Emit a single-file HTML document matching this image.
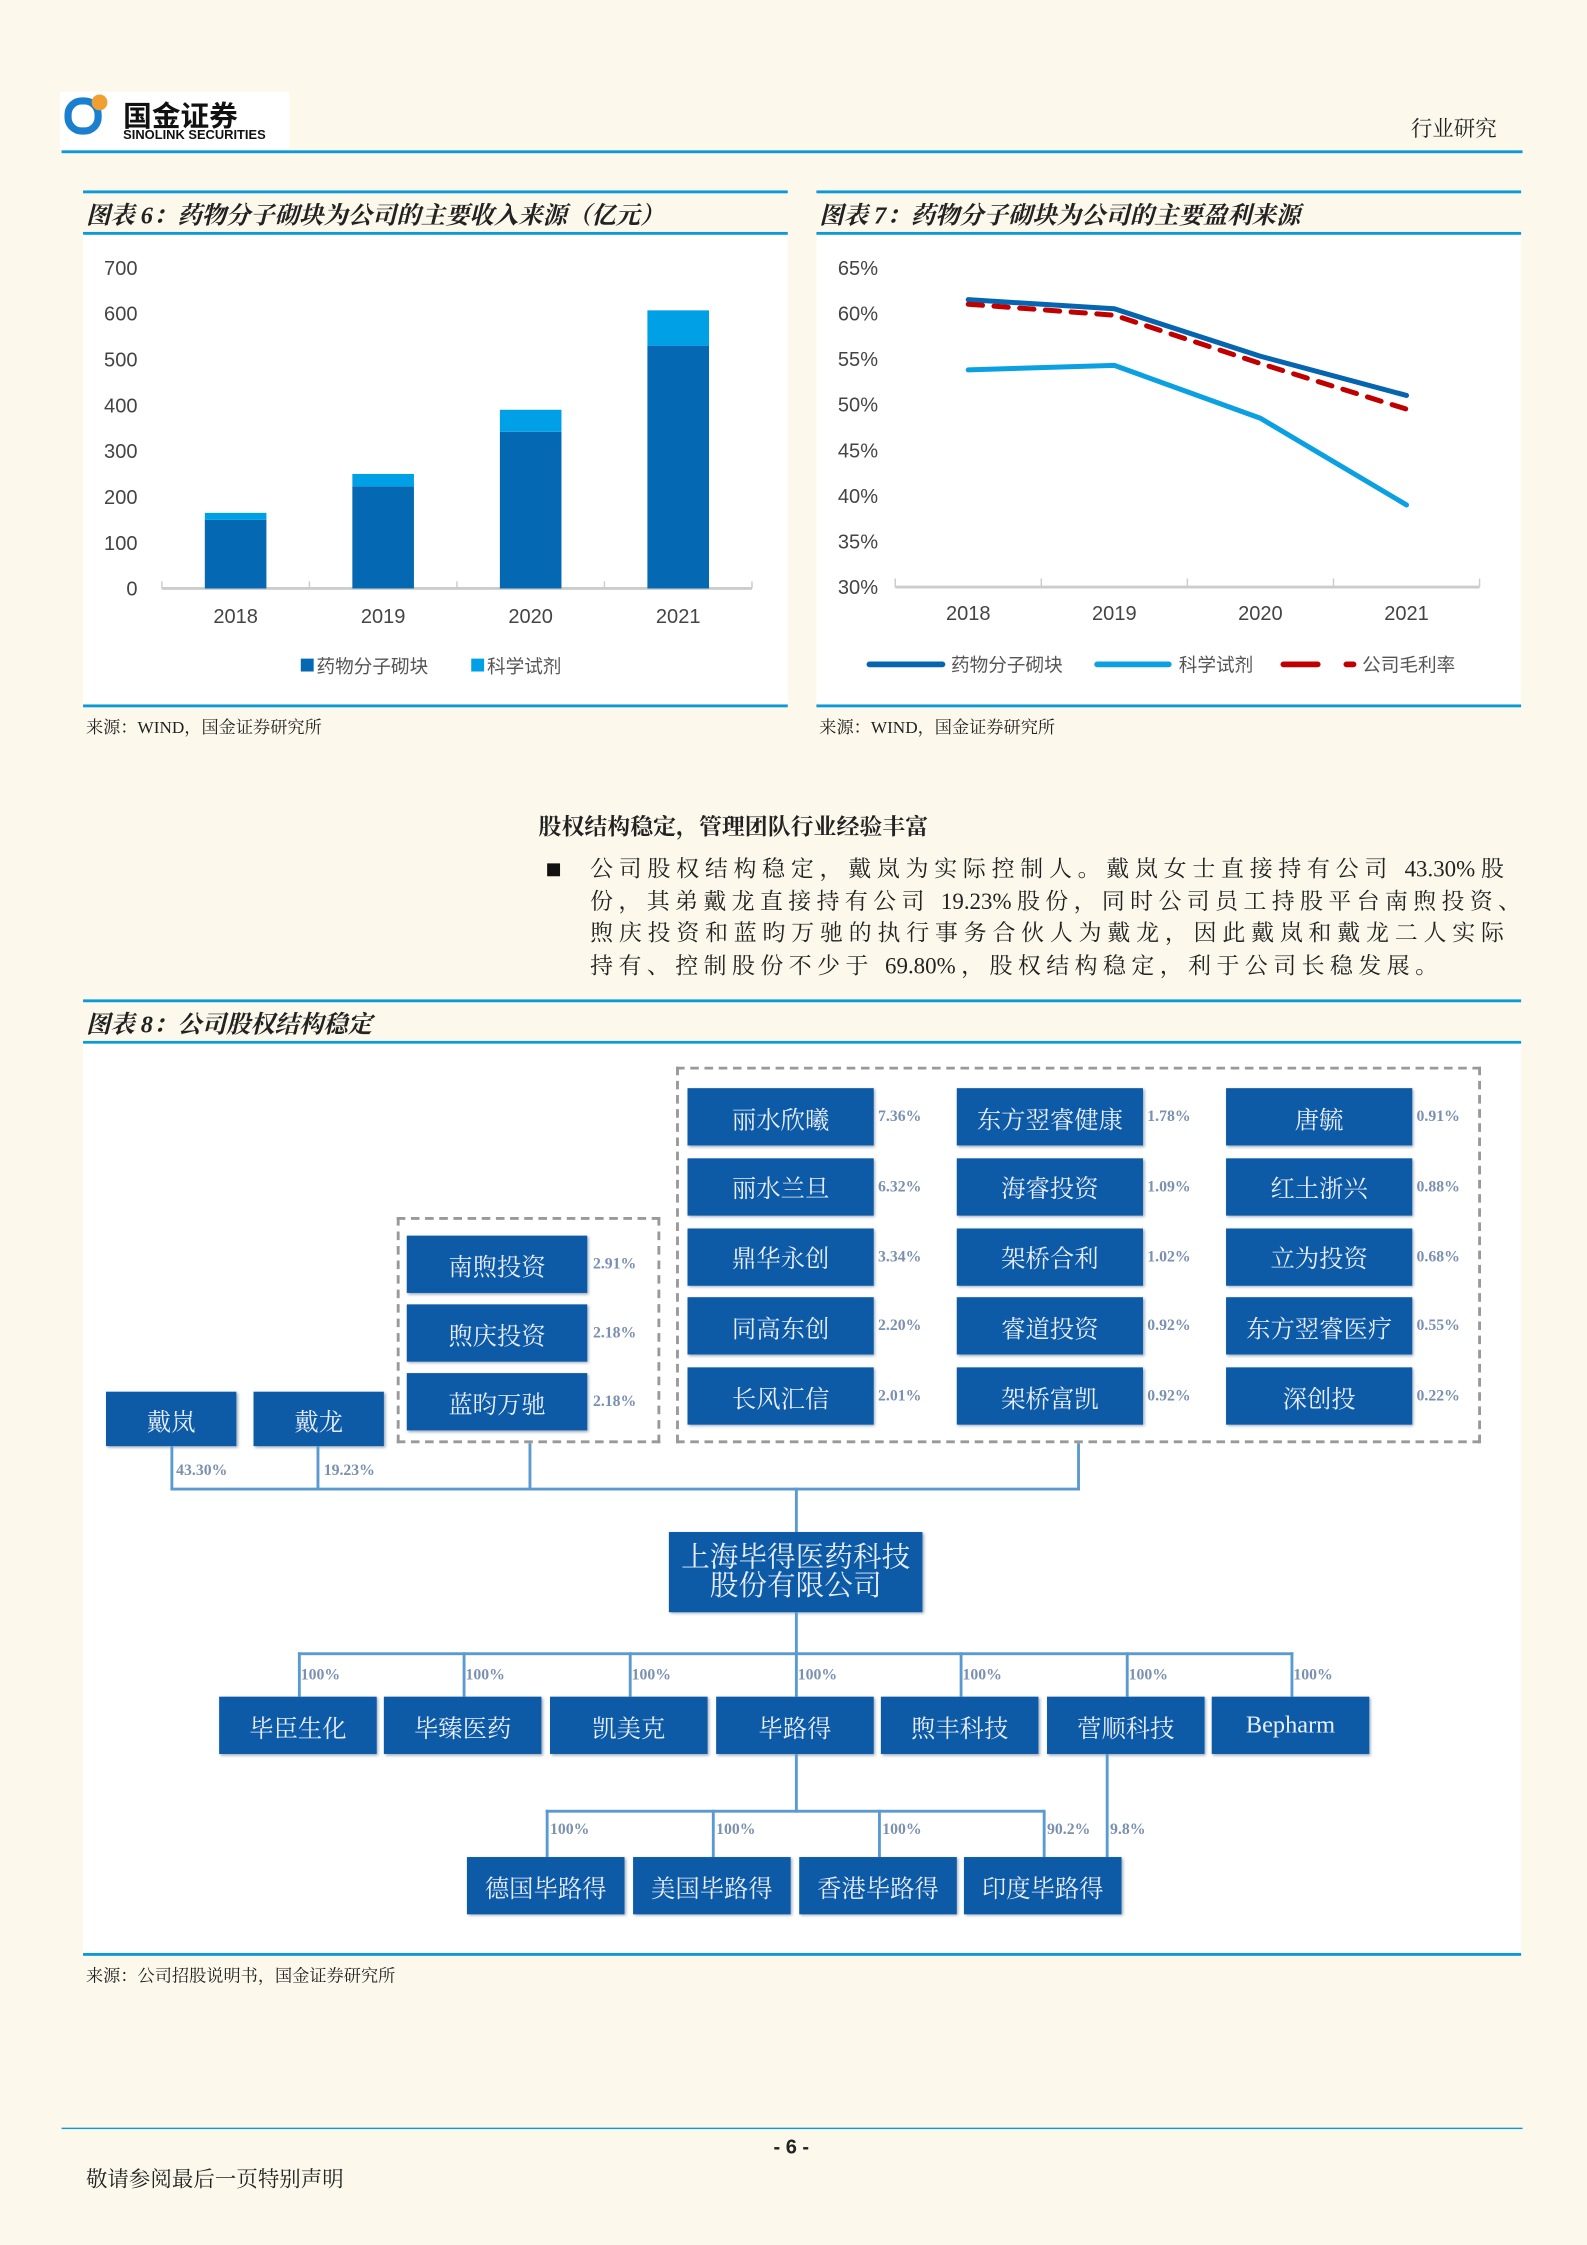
<!DOCTYPE html>
<html><head><meta charset="utf-8">
<style>
html,body{margin:0;padding:0;}
body{width:1587px;height:2245px;overflow:hidden;background:#fdf8ec;}
#wrap{position:absolute;left:0;top:0;width:1108px;height:1568px;transform:scale(1.43231,1.4318);transform-origin:0 0;font-family:"Liberation Sans","Noto Sans CJK SC",sans-serif;color:#222;}
.abs{position:absolute;}
.cap{font-family:"Liberation Serif","Noto Serif CJK SC",serif;font-style:italic;font-weight:bold;font-size:17px;}
.src{font-family:"Liberation Serif","Noto Serif CJK SC",serif;font-size:12px;}
.bl{position:absolute;height:2px;background:#0a9ad8;}
.box{position:absolute;background:#0d5aa7;color:#e8eef8;font-family:"Liberation Serif","Noto Serif CJK SC",serif;font-size:17px;display:flex;align-items:center;justify-content:center;box-shadow:1px 1px 2px #9ab;}
.pct{position:absolute;font-family:"Liberation Serif",serif;font-weight:bold;font-size:11px;color:#7a90b0;}
.ln{position:absolute;background:#5a9ad0;}
.pl{display:block;text-align:justify;text-align-last:justify;height:22.5px;white-space:nowrap;}
</style></head><body>
<div id="wrap">
<!-- header -->
<div class="abs" style="left:42px;top:64px;width:160px;height:40px;background:#fff;">
 <div class="abs" style="left:3px;top:4px;width:26px;height:26px;border:5px solid #1b7fd0;border-radius:12px;box-sizing:border-box;"></div>
 <div class="abs" style="left:22px;top:2px;width:11px;height:11px;border-radius:50%;background:#f0a030;"></div>
 <div class="abs" style="left:44px;top:1px;font-size:20px;font-weight:bold;color:#111;">国金证券</div>
 <div class="abs" style="left:44px;top:25px;font-size:9px;font-weight:bold;color:#111;">SINOLINK SECURITIES</div>
</div>
<div class="abs" style="left:985px;top:79px;font-size:15px;font-family:'Liberation Serif','Noto Serif CJK SC',serif;">行业研究</div>
<div class="bl" style="left:43px;top:105px;width:1020px;"></div>

<!-- chart 6 -->
<div class="bl" style="left:58px;top:133px;width:492px;"></div>
<div class="abs cap" style="left:60px;top:136px;">图表 6：药物分子砌块为公司的主要收入来源（亿元）</div>
<div class="bl" style="left:58px;top:162px;width:492px;"></div>
<svg class="abs" id="c6" style="left:58px;top:164px;" width="492" height="328"></svg>
<div class="bl" style="left:58px;top:492px;width:492px;"></div>
<div class="abs src" style="left:60px;top:499px;">来源：WIND，国金证券研究所</div>

<!-- chart 7 -->
<div class="bl" style="left:570px;top:133px;width:492px;"></div>
<div class="abs cap" style="left:572px;top:136px;">图表 7：药物分子砌块为公司的主要盈利来源</div>
<div class="bl" style="left:570px;top:162px;width:492px;"></div>
<svg class="abs" id="c7" style="left:570px;top:164px;" width="492" height="328"></svg>
<div class="bl" style="left:570px;top:492px;width:492px;"></div>
<div class="abs src" style="left:572px;top:499px;">来源：WIND，国金证券研究所</div>

<!-- text -->
<div class="abs" style="left:376px;top:565px;font-size:16px;font-weight:bold;font-family:'Liberation Serif','Noto Serif CJK SC',serif;">股权结构稳定，管理团队行业经验丰富</div>
<div class="abs" style="left:382px;top:603px;width:9px;height:9px;background:#111;"></div>
<div class="abs" style="left:412px;top:597px;width:650px;font-size:16px;line-height:22.5px;font-family:'Liberation Serif','Noto Serif CJK SC',serif;">
<span class="pl" style="width:638px;">公司股权结构稳定，戴岚为实际控制人。戴岚女士直接持有公司 43.30%股</span>
<span class="pl">份，其弟戴龙直接持有公司 19.23%股份，同时公司员工持股平台南煦投资、</span>
<span class="pl" style="width:638px;">煦庆投资和蓝昀万驰的执行事务合伙人为戴龙，因此戴岚和戴龙二人实际</span>
<span class="pl" style="width:592px;">持有、控制股份不少于 69.80%，股权结构稳定，利于公司长稳发展。</span>
</div>

<!-- chart 8 -->
<div class="bl" style="left:58px;top:698px;width:1004px;"></div>
<div class="abs cap" style="left:60px;top:701px;">图表 8：公司股权结构稳定</div>
<div class="bl" style="left:58px;top:727px;width:1004px;"></div>
<div class="abs" id="org" style="left:58px;top:729px;width:1004px;height:635px;background:#fff;"></div>
<div class="bl" style="left:58px;top:1364px;width:1004px;"></div>
<div class="abs src" style="left:60px;top:1371px;">来源：公司招股说明书，国金证券研究所</div>

<!-- footer -->
<div class="bl" style="left:43px;top:1486px;width:1020px;height:1px;"></div>
<div class="abs" style="left:540px;top:1491px;font-size:14px;font-weight:bold;">- 6 -</div>
<div class="abs" style="left:60px;top:1511px;font-size:15px;font-family:'Liberation Serif','Noto Serif CJK SC',serif;">敬请参阅最后一页特别声明</div>
</div>

<script>
const NS='http://www.w3.org/2000/svg';
function mk(p,t,a,txt){const e=document.createElementNS(NS,t);for(const k in a)e.setAttribute(k,a[k]);if(txt!=null)e.textContent=txt;p.appendChild(e);return e;}

// chart 6 data
const years=['2018','2019','2020','2021'];
const blockRev=[150,223,342,530];
const reagentRev=[15,27,48,77];
const revTicks=[0,100,200,300,400,500,600,700];
// chart 7 data
const blockMargin=[61.5,60.5,55.3,51.0];
const reagentMargin=[53.8,54.3,48.5,39.0];
const companyMargin=[61.0,59.8,54.5,49.5];
const pctTicks=[30,35,40,45,50,55,60,65];

(function(){
 const s=document.getElementById('c6');
 mk(s,'rect',{x:0,y:0,width:492,height:328,fill:'#fff'});
 const y0=247,y1=23,x0=55,x1=467;
 const Y=v=>y0-(v-0)/700*(y0-y1);
 const bw=(x1-x0)/years.length;
 revTicks.forEach(t=>{const e=mk(s,'text',{x:38,y:Y(t)+5,'text-anchor':'end','font-size':14,fill:'#444'},t);});
 mk(s,'line',{x1:x0,x2:x1,y1:y0,y2:y0,stroke:'#ccc','stroke-width':2});
 for(let i=0;i<=years.length;i++)mk(s,'line',{x1:x0+i*bw,x2:x0+i*bw,y1:y0,y2:y0-5,stroke:'#ccc','stroke-width':1});
 years.forEach((yr,i)=>{
  const cx=x0+bw*(i+.5);
  const b=mk(s,'rect',{x:cx-21.5,y:Y(blockRev[i]),width:43,height:y0-Y(blockRev[i]),fill:'#0468b3'});
  
  const r=mk(s,'rect',{x:cx-21.5,y:Y(blockRev[i]+reagentRev[i]),width:43,height:Y(blockRev[i])-Y(blockRev[i]+reagentRev[i]),fill:'#00a0e6'});
  
  const t=mk(s,'text',{x:cx,y:271,'text-anchor':'middle','font-size':14,fill:'#444'},yr);
  
 });
 const lg=mk(s,'g',{});
 mk(lg,'rect',{x:152,y:296,width:9,height:9,fill:'#0468b3'});
 mk(lg,'text',{x:163,y:306,'font-size':13,fill:'#555'},'药物分子砌块');
 mk(lg,'rect',{x:271,y:296,width:9,height:9,fill:'#00a0e6'});
 mk(lg,'text',{x:282,y:306,'font-size':13,fill:'#555'},'科学试剂');
})();

(function(){
 const s=document.getElementById('c7');
 mk(s,'rect',{x:0,y:0,width:492,height:328,fill:'#fff'});
 const y0=246,y1=23,x0=55,x1=463;
 const Y=v=>y0-(v-30)/35*(y0-y1);
 const bw=(x1-x0)/years.length;
 const X=i=>x0+bw*(i+.5);
 pctTicks.forEach(t=>{const e=mk(s,'text',{x:43,y:Y(t)+5,'text-anchor':'end','font-size':14,fill:'#444'},t+'%');});
 mk(s,'line',{x1:x0,x2:x1,y1:y0,y2:y0,stroke:'#ccc','stroke-width':2});
 for(let i=0;i<=years.length;i++)mk(s,'line',{x1:x0+i*bw,x2:x0+i*bw,y1:y0,y2:y0-6,stroke:'#ccc','stroke-width':1});
 years.forEach((yr,i)=>{const t=mk(s,'text',{x:X(i),y:269,'text-anchor':'middle','font-size':14,fill:'#444'},yr);});
 const series=[[blockMargin,'#0565b0','','line-block-margin'],[reagentMargin,'#0aa0e2','','line-reagent-margin'],[companyMargin,'#c00000','10 8','line-company-margin']];
 series.forEach(([d,c,da,n])=>{
  const p=mk(s,'polyline',{points:d.map((v,i)=>X(i)+','+Y(v)).join(' '),fill:'none',stroke:c,'stroke-width':3.5,'stroke-dasharray':da,'stroke-linecap':'round','stroke-linejoin':'round'});
  
 });
 const lg=mk(s,'g',{});
 mk(lg,'line',{x1:37,x2:88,y1:300,y2:300,stroke:'#0565b0','stroke-width':4,'stroke-linecap':'round'});
 mk(lg,'text',{x:94,y:305,'font-size':13,fill:'#555'},'药物分子砌块');
 mk(lg,'line',{x1:196,x2:246,y1:300,y2:300,stroke:'#0aa0e2','stroke-width':4,'stroke-linecap':'round'});
 mk(lg,'text',{x:253,y:305,'font-size':13,fill:'#555'},'科学试剂');
 mk(lg,'line',{x1:326,x2:350,y1:300,y2:300,stroke:'#c00000','stroke-width':4,'stroke-linecap':'round'});
 mk(lg,'line',{x1:370,x2:375,y1:300,y2:300,stroke:'#c00000','stroke-width':4,'stroke-linecap':'round'});
 mk(lg,'text',{x:381,y:305,'font-size':13,fill:'#555'},'公司毛利率');
})();

// org chart (coords in page space, offset by container)
(function(){
 const o=document.getElementById('org');const OX=58,OY=729;
 function div(cls,x,y,w,h,txt,name,extra){const d=document.createElement('div');d.className=cls;d.style.left=(x-OX)+'px';d.style.top=(y-OY)+'px';if(w!=null){d.style.width=w+'px';d.style.height=h+'px';}if(txt!=null)d.innerHTML=txt;if(extra)d.style.cssText+=extra;
  
  
  o.appendChild(d);return d;}
 function ln(x,y,w,h){const d=div('ln',x,y,w,h,null,'connector-line');}
 div('abs',472,745,562,263,null,'investor-group-frame','border:2px dashed #999;box-sizing:border-box;');
 div('abs',277,850,184,158,null,'esop-group-frame','border:2px dashed #999;box-sizing:border-box;');
 const cols=[[480,613],[668,801],[856,989]];
 const grid=[[['丽水欣曦','7.36%'],['东方翌睿健康','1.78%'],['唐毓','0.91%']],
  [['丽水兰旦','6.32%'],['海睿投资','1.09%'],['红土浙兴','0.88%']],
  [['鼎华永创','3.34%'],['架桥合利','1.02%'],['立为投资','0.68%']],
  [['同高东创','2.20%'],['睿道投资','0.92%'],['东方翌睿医疗','0.55%']],
  [['长风汇信','2.01%'],['架桥富凯','0.92%'],['深创投','0.22%']]];
 grid.forEach((row,r)=>row.forEach(([n,p],c)=>{div('box',cols[c][0],760+r*48.8,130,40,n,'shareholder-box');div('pct',cols[c][1],774+r*48.8,null,null,p,'shareholder-pct');}));
 [['南煦投资','2.91%'],['煦庆投资','2.18%'],['蓝昀万驰','2.18%']].forEach(([n,p],r)=>{div('box',284,863+r*48,126,40,n,'esop-box');div('pct',414,877+r*48,null,null,p,'esop-pct');});
 div('box',74,972,91,38,'戴岚','controller-dailan');div('box',177,972,91,38,'戴龙','controller-dailong');
 div('pct',123,1021,null,null,'43.30%','pct-dailan');div('pct',226,1021,null,null,'19.23%','pct-dailong');
 ln(119,1010,2,31);ln(221,1010,2,31);ln(369,1008,2,33);ln(752,1008,2,33);ln(119,1039,635,2);ln(555,1039,2,31);
 div('box',467,1070,177,56,'上海毕得医药科技<br>股份有限公司','parent-company','font-size:20px;line-height:20px;text-align:center;');
 ln(555,1126,2,30);ln(208,1154,695,2);
 const subs=['毕臣生化','毕臻医药','凯美克','毕路得','煦丰科技','菅顺科技','Bepharm'];
 const sx=[153,268,384,500,615,731,846];
 subs.forEach((n,i)=>{ln(sx[i]+55,1154,2,31);div('box',sx[i],1185,110,40,n,'subsidiary-box');div('pct',sx[i]+57,1164,null,null,'100%','subsidiary-pct');});
 ln(555,1225,2,41);ln(381,1264,348,2);ln(772,1225,2,72);
 const gs=['德国毕路得','美国毕路得','香港毕路得','印度毕路得'];const gx=[326,442,558,673];const gp=['100%','100%','100%','90.2%'];
 gs.forEach((n,i)=>{ln(gx[i]+55,1264,2,33);div('box',gx[i],1297,110,40,n,'sub-subsidiary-box');div('pct',gx[i]+58,1272,null,null,gp[i],'sub-subsidiary-pct');});
 div('pct',775,1272,null,null,'9.8%','india-pct');
})();
</script>
</body></html>
